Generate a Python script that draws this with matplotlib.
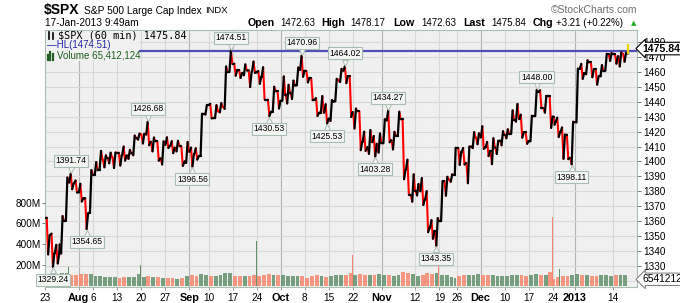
import numpy as np
import pandas as pd
import matplotlib
matplotlib.use("Agg")
import matplotlib.pyplot as plt
from matplotlib.collections import LineCollection
from matplotlib.patches import Rectangle
from matplotlib.transforms import blended_transform_factory, offset_copy

plt.rcParams["font.family"] = ["Liberation Sans", "DejaVu Sans"]

# trading calendar
first_day, last_day = "2012-07-23", "2013-01-17"
holidays = ["2012-09-03", "2012-10-29", "2012-10-30", "2012-11-22", "2012-12-25", "2013-01-01"]
half_days = ["2012-11-23", "2012-12-24"]

# daily OHLC of $SPX, one row per week
opens = [1362.3, 1350.5, 1338.4, 1344.3, 1360.1,
         1385.9, 1385.3, 1379.3, 1375.1, 1365.5,
         1391.0, 1394.5, 1400.9, 1402.3, 1402.6,
         1405.9, 1404.4, 1404.0, 1405.8, 1415.8,
         1417.9, 1418.1, 1413.1, 1413.5, 1402.0,
         1411.1, 1410.4, 1409.3, 1410.1, 1400.1,
         1406.5, 1404.9, 1403.7, 1432.1,
         1437.9, 1429.1, 1433.6, 1436.6, 1460.1,
         1465.4, 1461.2, 1459.5, 1461.1, 1460.3,
         1459.8, 1456.9, 1441.6, 1433.4, 1447.1,
         1440.9, 1445.0, 1446.1, 1451.1, 1461.4,
         1460.9, 1455.9, 1441.5, 1432.8, 1432.8,
         1428.8, 1440.3, 1454.2, 1460.9, 1457.3,
         1433.2, 1433.7, 1413.2, 1409.7, 1413.0,
         1411.0, 1412.2, 1427.6,
         1414.0, 1417.3, 1428.3, 1394.5, 1377.6,
         1379.9, 1380.0, 1374.6, 1355.4, 1353.4,
         1359.9, 1386.8, 1387.8, 1391.0,
         1409.2, 1406.3, 1398.8, 1410.0, 1416.0,
         1416.3, 1409.5, 1407.1, 1409.4, 1414.0,
         1418.1, 1418.6, 1427.8, 1428.5, 1419.5,
         1413.5, 1430.5, 1446.8, 1435.8, 1443.7,
         1430.2, 1426.7, 1419.8, 1418.1,
         1402.4, 1426.2, 1462.4, 1459.4,
         1466.5, 1461.9, 1457.2, 1461.0, 1472.1,
         1472.1, 1470.7, 1472.3, 1472.63]
highs = [1362.3, 1351.5, 1344.0, 1363.3, 1389.2,
         1391.74, 1387.2, 1385.0, 1375.3, 1394.2,
         1399.6, 1407.1, 1404.1, 1405.9, 1406.0,
         1405.9, 1410.0, 1407.7, 1417.4, 1418.7,
         1418.6, 1426.68, 1416.1, 1413.5, 1413.5,
         1416.2, 1413.6, 1413.9, 1410.1, 1413.1,
         1409.3, 1408.8, 1432.1, 1437.9,
         1438.7, 1437.8, 1439.2, 1463.8, 1474.51,
         1465.6, 1461.5, 1465.2, 1461.2, 1467.1,
         1460.7, 1463.2, 1441.6, 1450.2, 1447.1,
         1457.1, 1451.5, 1454.3, 1463.1, 1470.96,
         1460.9, 1455.9, 1442.5, 1443.9, 1438.4,
         1441.3, 1455.5, 1462.2, 1464.02, 1457.3,
         1435.5, 1433.7, 1420.0, 1421.1, 1417.1,
         1418.8, 1428.4, 1434.27,
         1419.9, 1433.4, 1428.3, 1401.2, 1391.4,
         1384.9, 1388.8, 1380.1, 1360.6, 1362.0,
         1386.9, 1389.7, 1391.3, 1409.2,
         1409.2, 1409.0, 1410.0, 1419.7, 1418.9,
         1423.7, 1413.1, 1415.6, 1413.9, 1420.3,
         1421.6, 1434.3, 1438.6, 1431.4, 1419.5,
         1430.7, 1448.00, 1447.8, 1443.7, 1443.7,
         1430.2, 1429.4, 1422.8, 1418.1,
         1426.7, 1462.4, 1465.5, 1467.9,
         1466.5, 1461.9, 1464.7, 1472.3, 1472.8,
         1472.1, 1473.3, 1473.1, 1478.17]
lows = [1337.6, 1329.24, 1331.5, 1338.2, 1360.1,
        1381.4, 1379.2, 1373.1, 1354.65, 1365.5,
        1391.0, 1394.5, 1396.1, 1398.8, 1395.6,
        1397.3, 1400.6, 1401.8, 1404.2, 1414.7,
        1412.1, 1410.9, 1406.8, 1400.5, 1398.0,
        1409.1, 1405.6, 1406.8, 1397.0, 1399.0,
        1396.56, 1401.3, 1403.7, 1431.5,
        1429.0, 1429.1, 1433.0, 1435.3, 1460.1,
        1457.6, 1456.1, 1457.9, 1450.0, 1459.5,
        1452.1, 1441.6, 1430.53, 1433.4, 1435.6,
        1440.9, 1439.0, 1442.0, 1451.1, 1456.9,
        1453.1, 1441.2, 1430.6, 1432.8, 1425.53,
        1427.2, 1440.3, 1453.4, 1452.6, 1429.9,
        1422.1, 1407.6, 1407.1, 1405.1, 1403.28,
        1406.0, 1412.2, 1412.9,
        1408.1, 1417.3, 1388.1, 1377.5, 1373.0,
        1377.2, 1370.8, 1352.5, 1348.1, 1343.35,
        1359.9, 1377.0, 1386.4, 1391.0,
        1397.7, 1398.0, 1385.4, 1409.0, 1411.6,
        1408.5, 1403.6, 1398.2, 1405.0, 1410.9,
        1415.6, 1418.6, 1426.8, 1416.0, 1411.9,
        1413.5, 1430.5, 1435.8, 1432.8, 1422.6,
        1424.7, 1416.4, 1401.8, 1401.6,
        1398.11, 1426.2, 1455.5, 1458.6,
        1456.6, 1451.6, 1457.2, 1461.0, 1467.6,
        1465.7, 1463.8, 1467.0, 1472.63]
closes = [1350.5, 1338.3, 1337.9, 1360.0, 1386.0,
          1385.3, 1379.3, 1375.3, 1365.0, 1391.0,
          1394.2, 1401.4, 1402.2, 1402.8, 1405.9,
          1404.1, 1403.9, 1405.5, 1415.5, 1418.2,
          1418.1, 1413.2, 1413.5, 1402.1, 1411.1,
          1410.4, 1409.3, 1410.5, 1399.5, 1406.6,
          1404.9, 1403.4, 1432.1, 1437.9,
          1429.1, 1433.6, 1436.6, 1460.0, 1465.8,
          1461.2, 1459.3, 1461.1, 1460.3, 1460.2,
          1456.9, 1441.6, 1433.3, 1447.2, 1440.7,
          1444.5, 1445.8, 1451.0, 1461.4, 1460.9,
          1455.9, 1441.5, 1432.6, 1432.8, 1428.6,
          1440.1, 1454.9, 1460.9, 1457.3, 1433.2,
          1433.8, 1413.1, 1408.8, 1413.0, 1411.9,
          1412.2, 1427.6, 1414.2,
          1417.3, 1428.4, 1394.5, 1377.5, 1379.9,
          1380.0, 1374.5, 1355.5, 1353.3, 1359.9,
          1386.9, 1387.8, 1391.0, 1409.2,
          1406.3, 1398.9, 1409.9, 1416.0, 1416.2,
          1409.5, 1407.1, 1409.3, 1413.9, 1418.1,
          1418.6, 1427.8, 1428.5, 1419.5, 1413.6,
          1430.4, 1446.8, 1435.8, 1443.7, 1430.2,
          1426.7, 1419.8, 1418.1, 1402.4,
          1426.2, 1462.4, 1459.4, 1466.5,
          1461.9, 1457.2, 1461.0, 1472.1, 1472.1,
          1470.7, 1472.3, 1472.6, 1475.84]

# typical hourly volume per day, millions
vol_hour = [115, 120, 110, 125, 130,
            105, 110, 115, 120, 115,
            95, 100, 90, 90, 85,
            80, 90, 85, 90, 115,
            85, 95, 90, 90, 80,
            75, 75, 70, 80, 100,
            105, 95, 120, 105,
            95, 100, 105, 125, 130,
            100, 95, 100, 100, 110,
            95, 110, 115, 105, 105,
            105, 95, 100, 100, 95,
            80, 100, 105, 100, 90,
            100, 110, 105, 110, 130,
            105, 120, 110, 105, 105,
            115, 110, 110,
            95, 110, 135, 125, 115,
            100, 110, 125, 120, 130,
            110, 105, 90, 80,
            95, 105, 110, 105, 115,
            105, 105, 110, 100, 100,
            95, 105, 110, 105, 100,
            105, 115, 110, 110, 140,
            70, 90, 100, 100,
            110, 120, 105, 105,
            100, 100, 105, 105, 100,
            105, 110, 105, 65.4]

# closing-hour volume spikes
spike_dates = ["2012-07-27", "2012-08-17", "2012-09-21", "2012-10-19", "2012-11-16", "2012-12-21", "2012-12-26"]
spike_vol = [180, 200, 430, 300, 230, 665, 165]
spike_up = [True, True, True, False, False, False, True]

# labelled highs / lows
hl_dates = ["2012-07-24", "2012-07-30", "2012-08-02", "2012-08-21", "2012-09-04", "2012-09-14",
            "2012-09-26", "2012-10-05", "2012-10-12", "2012-10-18", "2012-10-26", "2012-11-02",
            "2012-11-16", "2012-12-18", "2012-12-31"]
hl_kind = ["low", "high", "low", "high", "low", "high", "low", "high", "low", "high", "low", "high",
           "low", "high", "low"]

tick_dates = ["2012-07-23", "2012-08-01", "2012-08-06", "2012-08-13", "2012-08-20", "2012-08-27",
              "2012-09-04", "2012-09-10", "2012-09-17", "2012-09-24", "2012-10-01", "2012-10-08",
              "2012-10-15", "2012-10-22", "2012-11-01", "2012-11-12", "2012-11-19", "2012-11-26",
              "2012-12-03", "2012-12-10", "2012-12-17", "2012-12-24", "2013-01-02", "2013-01-14"]
tick_labels = ["23", "Aug", "6", "13", "20", "27", "Sep", "10", "17", "24", "Oct", "8", "15", "22",
               "Nov", "12", "19", "26", "Dec", "10", "17", "24", "2013", "14"]
month_labels = ["Aug", "Sep", "Oct", "Nov", "Dec", "2013"]

hl_level = 1474.51
last_price = 1475.84
last_volume = 65412124

# ---- layout (pixels) ----
W, H = 680, 303
L, R, T, B = 45, 637, 30, 287

days = pd.bdate_range(first_day, last_day)
days = days[~days.isin(pd.to_datetime(holidays))]
bars = np.full(len(days), 7.0)
bars[days.isin(pd.to_datetime(half_days))] = 4
bars[-1] = 1
width = bars / 7
start = np.concatenate([[0], np.cumsum(width)[:-1]])
day_index = {d.strftime("%Y-%m-%d"): i for i, d in enumerate(days)}
n = len(days)

fig = plt.figure(figsize=(W / 100, H / 100), dpi=100)
ax_p = fig.add_axes([L / W, 1 - B / H, (R - L) / W, (B - T) / H])
ax_v = ax_p.twinx()
ax_p.set_facecolor("#f0f0f0")
ax_v.patch.set_visible(False)

xmax = (R - L) / 4.81
ax_p.set_xlim(0, xmax)
ax_p.set_ylim(1315.7, 1488.3)
ax_v.set_ylim(-8, 2450)

# grid
tick_x = [start[day_index[d]] for d in tick_dates]
for x, lab in zip(tick_x, tick_labels):
    ax_p.axvline(x, color="#b4b4b4" if lab in month_labels else "#d8d8d8", lw=0.8, zorder=0)
ax_p.set_yticks(np.arange(1320, 1481, 10))
ax_p.grid(axis="y", color="#d8d8d8", lw=0.8, zorder=0)
ax_p.set_axisbelow(True)

# HL line
ax_p.axhline(hl_level, color="#5050b8", lw=1.6, zorder=2)

# price path: open -> low/high -> high/low -> close inside each day
xs, ys = [], []
for i in range(n - 1):
    o, h, l, c = opens[i], highs[i], lows[i], closes[i]
    path = [o, l, h, c] if c >= o else [o, h, l, c]
    for f, v in zip([0.05, 0.35, 0.65, 0.95], path):
        xs.append(start[i] + f * width[i])
        ys.append(v)
pts = np.column_stack([xs, ys])
segs = np.stack([pts[:-1], pts[1:]], axis=1)
rising = np.diff(ys) >= 0
ax_p.add_collection(LineCollection(segs[~rising], colors="#ff0000", linewidths=1.5, capstyle="round", zorder=3))
ax_p.add_collection(LineCollection(segs[rising], colors="#000000", linewidths=1.6, capstyle="round", zorder=3))
xl = start[-1] + 0.5 * width[-1]
ax_p.plot([xs[-1], xl], [ys[-1], opens[-1]], color="black", lw=1.6, zorder=3)
ax_p.plot([xl, xl], [lows[-1], highs[-1]], color="#e8d400", lw=1.6, zorder=4)

# volume
up = np.array(closes) >= np.array(opens)
vcol = np.where(up, "#62906a", "#f7866c")
ax_v.bar(start + 0.5 * width, vol_hour, width=width * 0.8, color=vcol, alpha=0.85, lw=0)
sx = [start[day_index[d]] + width[day_index[d]] * 0.9 for d in spike_dates]
ax_v.bar(sx, spike_vol, width=0.2, color=["#62906a" if u else "#f7866c" for u in spike_up], lw=0)

# axes styling
for sp in ax_p.spines.values():
    sp.set_color("#a8bfb0")
for sp in ax_v.spines.values():
    sp.set_visible(False)
ax_p.yaxis.tick_right()
ax_p.tick_params(axis="y", labelsize=7.2, length=3, width=0.7, color="#777777", pad=1.5)
ax_p.set_xticks(tick_x)
ax_p.set_xticklabels(tick_labels)
ax_p.tick_params(axis="x", labelsize=7.2, length=2, width=0.7, color="#999999", pad=2.5)
for t in ax_p.get_xticklabels():
    if t.get_text() in month_labels:
        t.set_fontweight("bold")
        t.set_fontsize(7.8)
ax_v.yaxis.tick_left()
ax_v.set_yticks([200, 400, 600, 800])
ax_v.set_yticklabels(["200M", "400M", "600M", "800M"])
ax_v.tick_params(axis="y", labelsize=7.2, length=2, width=0.7, color="#777777", pad=1)

# high / low labels
box = dict(boxstyle="square,pad=0.18", fc="#f4f6f4", ec="#a9bcb2", lw=0.8)
for d, kind in zip(hl_dates, hl_kind):
    i = day_index[d]
    up_day = closes[i] >= opens[i]
    if kind == "high":
        v = highs[i]
        f = 0.65 if up_day else 0.35
        dy, va, mk = 6.0, "bottom", "v"
    else:
        v = lows[i]
        f = 0.35 if up_day else 0.65
        dy, va, mk = -6.0, "top", "^"
    x = start[i] + f * width[i]
    ax_v.annotate(f"{v:.2f}", xy=(x, v), xycoords=ax_p.transData, xytext=(0, dy),
                  textcoords="offset points", ha="center", va=va, fontsize=6.2, bbox=box,
                  annotation_clip=False, zorder=6)
    tr = offset_copy(ax_p.transData, fig=fig, x=0, y=(2.6 if dy > 0 else -2.6), units="points")
    ax_v.plot([x], [v], marker=mk, ms=4, mfc="#f4f6f4", mec="#a9bcb2", mew=0.7,
              transform=tr, clip_on=False, zorder=7)

# last price and last volume tags
blend_p = blended_transform_factory(ax_p.transAxes, ax_p.transData)
ax_v.annotate(f"{last_price:.2f}", xy=(1.0, last_price), xycoords=blend_p, xytext=(4, 0),
              textcoords="offset points", ha="left", va="center", fontsize=7.6, fontweight="bold",
              bbox=dict(boxstyle="larrow,pad=0.12", fc="white", ec="black", lw=0.8),
              annotation_clip=False, zorder=8)
blend_v = blended_transform_factory(ax_v.transAxes, ax_v.transData)
ax_v.annotate(f"{last_volume}", xy=(1.0, last_volume / 1e6), xycoords=blend_v, xytext=(4, 0),
              textcoords="offset points", ha="left", va="center", fontsize=7.4,
              bbox=dict(boxstyle="larrow,pad=0.12", fc="white", ec="#777777", lw=0.7),
              annotation_clip=False, zorder=8)


def fx(x, y):
    return x / W, 1 - y / H


# legend block
ax_v.add_patch(Rectangle(fx(L + 1, 61), (138 - L) / W, 30 / H, transform=fig.transFigure,
                         fc="#f0f0f0", ec="none", clip_on=False, zorder=5))
ax_v.text(*fx(58, 35), f"$SPX (60 min) {last_price:.2f}", transform=fig.transFigure, fontsize=7.3,
          family="DejaVu Sans Mono", va="center", ha="left", zorder=6)
for x0, y0, y1 in [(48.5, 31.5, 38.5), (52.5, 33, 38.5)]:
    ax_v.plot([fx(x0, 0)[0]] * 2, [fx(0, y0)[1], fx(0, y1)[1]], color="black", lw=1.2,
              transform=fig.transFigure, clip_on=False, zorder=6)
ax_v.text(*fx(47, 45.5), f"\u2014HL({hl_level:.2f})", transform=fig.transFigure, fontsize=7,
          color="#2424a8", va="center", ha="left", zorder=6)
for x0, y0 in [(47.5, 55), (50, 52.5), (52.5, 54)]:
    ax_v.plot([fx(x0, 0)[0]] * 2, [fx(0, y0)[1], fx(0, 59.5)[1]], color="#1f5f1f", lw=1.6,
              transform=fig.transFigure, clip_on=False, zorder=6)
ax_v.text(*fx(57, 56), f"Volume {last_volume:,}", transform=fig.transFigure, fontsize=7,
          color="#1f5f1f", va="center", ha="left", zorder=6)

# header
fig.text(*fx(44, 10), "$SPX", fontsize=10, fontweight="bold", va="center", ha="left")
fig.text(*fx(84, 10.5), "S&P 500 Large Cap Index", fontsize=7.3, va="center", ha="left")
fig.text(*fx(205, 10.5), "INDX", fontsize=6.8, va="center", ha="left")
fig.text(*fx(637, 10), "\u00a9StockCharts.com", fontsize=7.5, color="#707070", va="center", ha="right")
fig.text(*fx(45, 23.5), "17-Jan-2013 9:49am", fontsize=7.3, va="center", ha="left")
quote = [(248, "Open", True), (280, "1472.63", False), (321, "High", True), (350, "1478.17", False),
         (393, "Low", True), (421, "1472.63", False), (463, "Last", True), (491, "1475.84", False),
         (533, "Chg", True), (556.5, "+3.21 (+0.22%)", False)]
for x, s, bold in quote:
    fig.text(*fx(x, 23.5), s, fontsize=7.7 if bold else 7.0, fontweight="bold" if bold else "normal",
             va="center", ha="left")
fig.text(*fx(633.5, 23), "\u25b2", fontsize=5, color="#22b022", va="center", ha="center",
         family="DejaVu Sans")

fig.savefig("out.png", dpi=100)
